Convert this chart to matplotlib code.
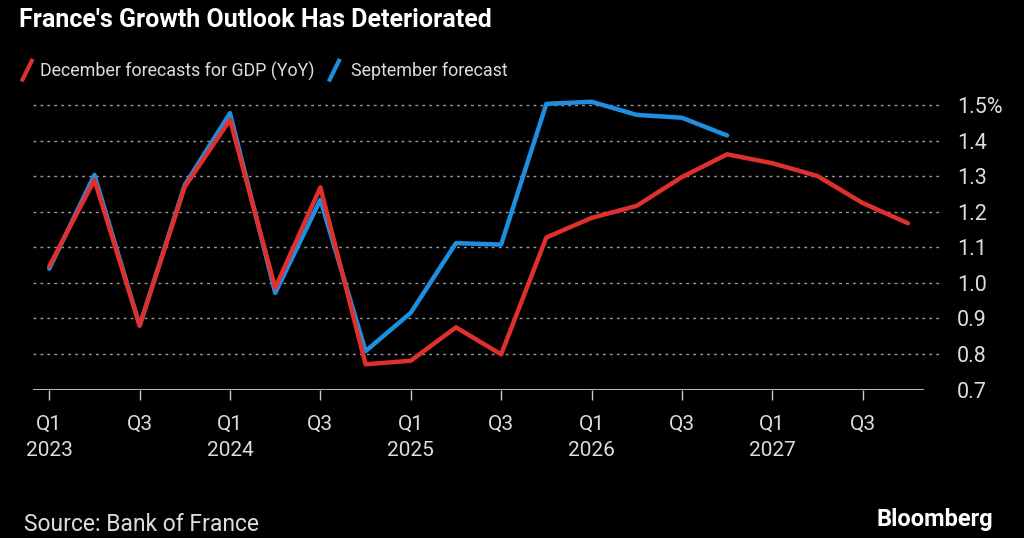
import matplotlib.pyplot as plt
from matplotlib.lines import Line2D

plt.rcParams["font.family"] = ["Roboto", "DejaVu Sans"]

# quarterly GDP YoY forecasts, Q1 2023 .. Q4 2027
quarters = [f"Q{q} {y}" for y in range(2023, 2028) for q in range(1, 5)]
december = [1.047, 1.290, 0.880, 1.271, 1.459, 0.986, 1.269, 0.771, 0.781, 0.875,
            0.799, 1.128, 1.183, 1.217, 1.298, 1.362, 1.337, 1.301, 1.225, 1.168]
september = [1.040, 1.304, 0.880, 1.276, 1.478, 0.972, 1.234, 0.808, 0.916, 1.112,
             1.108, 1.504, 1.510, 1.473, 1.465, 1.415]
tick_labels = ["Q1\n2023", "Q3", "Q1\n2024", "Q3", "Q1\n2025", "Q3",
               "Q1\n2026", "Q3", "Q1\n2027", "Q3"]
y_ticks = [0.7, 0.8, 0.9, 1.0, 1.1, 1.2, 1.3, 1.4, 1.5]
y_labels = ["0.7", "0.8", "0.9", "1.0", "1.1", "1.2", "1.3", "1.4", "1.5%"]

RED = "#e0302e"
BLUE = "#1e8fe0"
TXT = "#dddddd"

fig = plt.figure(figsize=(10.24, 5.38), dpi=100, facecolor="black")
ax = fig.add_axes([0.032, 0.276, 0.889, 0.5415], facecolor="black")

x_all = list(range(len(quarters)))
ax.plot(x_all[:len(september)], september, color=BLUE, lw=3.2, solid_capstyle="round", zorder=3)
ax.plot(x_all, december, color=RED, lw=3.2, solid_capstyle="round", zorder=4)

ax.set_xlim(-0.365, 19.78)
ax.set_ylim(0.7, 1.52)

# dotted gridlines
for yv in y_ticks[1:]:
    ax.axhline(yv, color="#9a9a9a", lw=1, ls=(0, (2, 3)), zorder=1)
ax.axhline(0.7, xmin=0, xmax=(19.33 + 0.365) / (19.78 + 0.365), color="#cccccc", lw=1.3, zorder=2)

for s in ax.spines.values():
    s.set_visible(False)

ax.set_xticks(x_all[::2])
ax.set_xticklabels(tick_labels, color=TXT, fontsize=15, linespacing=1.5)
ax.tick_params(axis="x", length=7, width=1, color="#cccccc", pad=11)

ax.yaxis.tick_right()
ax.set_yticks(y_ticks)
ax.set_yticklabels(y_labels, color=TXT, fontsize=15.5)
ax.tick_params(axis="y", length=0, pad=10)

# title, legend, footer
fig.text(0.019, 0.962, "France's Growth Outlook Has Deteriorated", color="white",
         fontsize=18, fontweight="bold", va="center", ha="left")
fig.lines.append(Line2D([0.022, 0.031], [0.852, 0.887], transform=fig.transFigure, color=RED, lw=3))
fig.text(0.039, 0.868, "December forecasts for GDP (YoY)", color=TXT, fontsize=12.9, va="center")
fig.lines.append(Line2D([0.322, 0.331], [0.852, 0.887], transform=fig.transFigure, color=BLUE, lw=3))
fig.text(0.343, 0.868, "September forecast", color=TXT, fontsize=12.9, va="center")

fig.text(0.023, 0.026, "Source: Bank of France", color=TXT, fontsize=16.5, va="center")
fig.text(0.97, 0.035, "Bloomberg", color="white", fontsize=17, fontweight="bold", va="center", ha="right")

fig.savefig("out.png", dpi=100, facecolor="black")
